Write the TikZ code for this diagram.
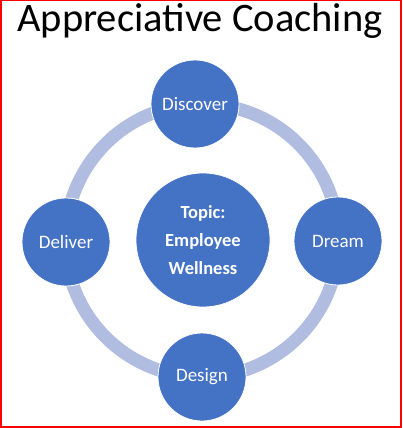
\documentclass[tikz,border=0pt]{standalone}
\usepackage{fontspec}
\setmainfont{Carlito}
\usetikzlibrary{positioning}
\definecolor{Stage}{HTML}{4472C4}
\definecolor{Ring}{HTML}{B0BDE0}
\definecolor{Frame}{HTML}{FF0000}

\begin{document}
\begin{tikzpicture}[x=1pt,y=-1pt,
    stage/.style={circle,draw=white,line width=0.8pt,fill=Stage,minimum size=88pt,inner sep=0pt,text=white,font=\fontsize{19}{22}\selectfont},
    topic/.style={circle,draw=white,line width=0.8pt,fill=Stage,minimum size=134pt,inner sep=0pt,text=white,align=center,font=\fontsize{18.5}{28}\selectfont\bfseries},
    ring/.style={draw=Ring,line width=13pt}
]
\useasboundingbox (0,0) rectangle (402,428);
\draw[Frame,line width=1.5pt] (0.75,0.75) rectangle (401,427);
\node[font=\fontsize{40.5}{44}\selectfont] (title) at (200,21) {Appreciative Coaching};
% ring behind the stages
\coordinate (hub) at (202,240.5);
\draw[ring] (hub) circle[radius=136.5];
\node[topic] (topic) at (203,240) {Topic:\\Employee\\Wellness};
\node[stage] (discover) at (195,104) {Discover};
\node[stage] (dream) at (338,241) {Dream};
\node[stage] (design) at (202,377) {Design};
\node[stage] (deliver) at (66,242) {Deliver};
\end{tikzpicture}
\end{document}
